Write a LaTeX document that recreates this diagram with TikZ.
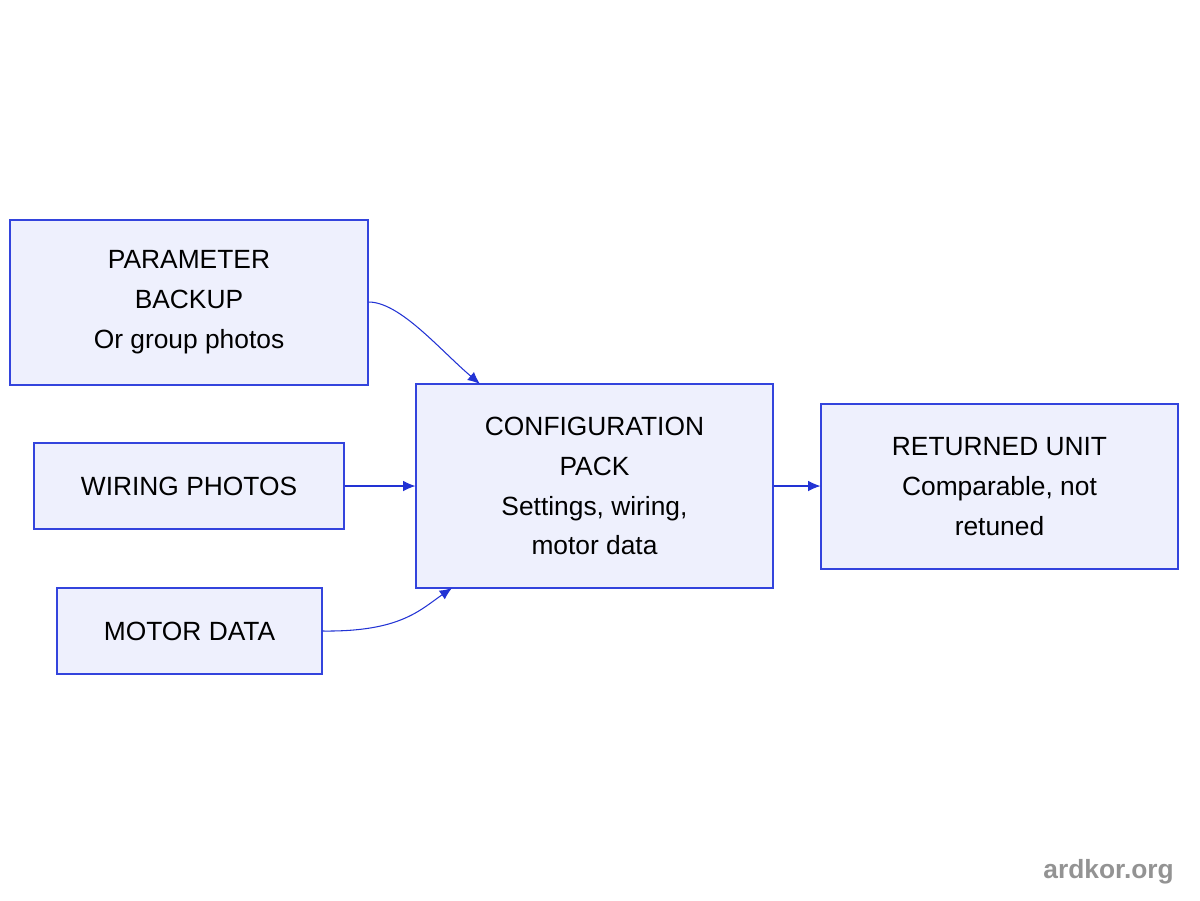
\documentclass[tikz,border=0pt]{standalone}
\usepackage{fontspec}
\setmainfont{Liberation Sans}
\usetikzlibrary{arrows.meta}
\definecolor{bfill}{HTML}{EEF0FD}
\definecolor{bdraw}{HTML}{3344DD}
\definecolor{edge}{HTML}{2233D4}
\begin{document}
\begin{tikzpicture}[x=0.02cm,y=-0.02cm,
  box/.style={draw=bdraw,fill=bfill,line width=0.6pt,align=center,font=\fontsize{15}{22.7}\selectfont,inner sep=0pt},
  conn/.style={draw=edge,line width=0.6pt,-{Latex[length=7pt,width=6pt]}}]
\useasboundingbox (0,0) rectangle (1200,900);
\node[box,minimum width=358*0.02cm,minimum height=165*0.02cm] (a) at (189,302.5) {PARAMETER\\ BACKUP\\ Or group photos};
\node[box,minimum width=310*0.02cm,minimum height=86*0.02cm] (b) at (189,486) {WIRING PHOTOS};
\node[box,minimum width=265*0.02cm,minimum height=86*0.02cm] (c) at (189.5,631) {MOTOR DATA};
\node[box,minimum width=357*0.02cm,minimum height=204*0.02cm] (d) at (594.5,486) {CONFIGURATION\\ PACK\\ Settings, wiring,\\ motor data};
\node[box,minimum width=357*0.02cm,minimum height=165*0.02cm] (e) at (999.5,486.5) {RETURNED UNIT\\ Comparable, not\\ retuned};
\coordinate (dA) at (480,384);
\coordinate (dC) at (452,588);
\draw[conn] (a.east |- 0,302) .. controls (400,302) and (440,350) .. (dA);
\draw[conn] (b.east) -- (d.west |- b.east);
\draw[conn] (c.east |- 0,631) .. controls (400,632) and (420,610) .. (dC);
\draw[conn] (d.east) -- (e.west |- d.east);
\node[font=\bfseries\fontsize{15}{16}\selectfont,text=gray!85,anchor=east] (w) at (1180,872) {ardkor.org};
\end{tikzpicture}
\end{document}
